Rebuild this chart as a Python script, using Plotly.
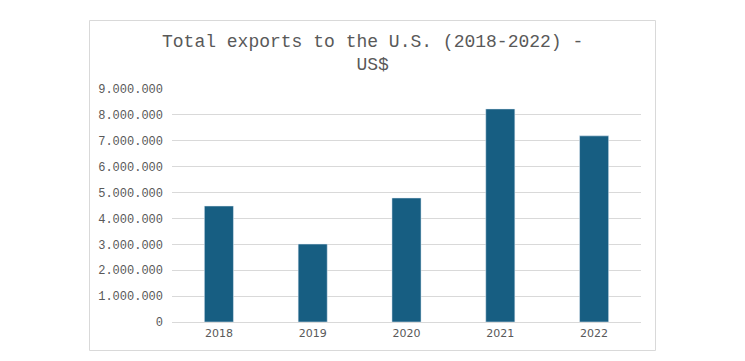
import plotly.graph_objects as go

years = ["2018", "2019", "2020", "2021", "2022"]
exports_usd = [4480000, 3010000, 4790000, 8230000, 7190000]
y_ticks = [0, 1000000, 2000000, 3000000, 4000000, 5000000, 6000000, 7000000, 8000000, 9000000]

OFF = 8  # default body margin of the html page
W, H = 745 - OFF, 361 - OFF
pl, pr, pt, pb = 172 - OFF, 641 - OFF, 89 - OFF, 322 - OFF

fig = go.Figure(go.Bar(
    x=years, y=exports_usd, marker_color="#175E82", width=0.31,
    hoverinfo="x+y",
))

def px_x(p):
    return (p - OFF - pl) / (pr - pl)

def px_y(p):
    return (pb - (p - OFF)) / (pb - pt)

fig.add_shape(type="rect", xref="paper", yref="paper",
              x0=px_x(89.5), x1=px_x(655.5), y0=px_y(350.5), y1=px_y(20.5),
              line=dict(color="#D9D9D9", width=1), fillcolor="rgba(0,0,0,0)", layer="below")

fig.add_annotation(text="Total exports to the U.S. (2018-2022) -<br>US$",
                   xref="paper", yref="paper", x=px_x(372), y=px_y(30),
                   xanchor="center", yanchor="top", showarrow=False,
                   font=dict(family="Liberation Mono, Courier New, monospace", size=18, color="#595959"))

fig.update_layout(
    width=W, height=H,
    margin=dict(l=pl, r=W - pr, t=pt, b=H - pb),
    paper_bgcolor="white", plot_bgcolor="white",
    separators=",.",
    showlegend=False,
    xaxis=dict(showgrid=False, showline=False, ticks="", ticklabelstandoff=3,
               tickfont=dict(family="DejaVu Sans, Arial, sans-serif", size=11, color="#595959")),
    yaxis=dict(range=[0, 9000000], tickvals=y_ticks, tickformat=",d",
               showgrid=True, gridcolor="#D9D9D9", gridwidth=1,
               zeroline=True, zerolinecolor="#D9D9D9", zerolinewidth=1,
               showline=False, ticks="", ticklabelstandoff=8,
               tickfont=dict(family="Liberation Mono, Courier New, monospace", size=12, color="#595959")),
)

fig.write_html("out.html")
